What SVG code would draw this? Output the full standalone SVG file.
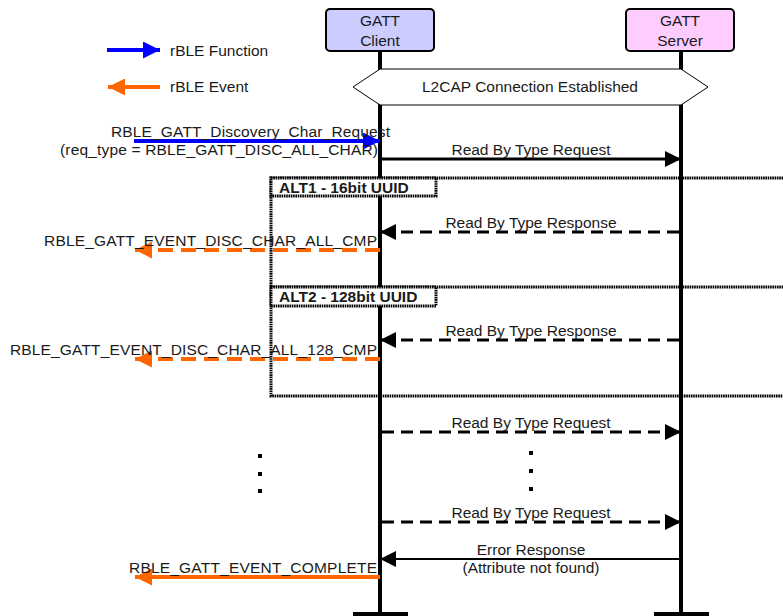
<svg xmlns="http://www.w3.org/2000/svg" width="783" height="616" viewBox="0 0 783 616">
  <style>
    text { font-family: "Liberation Sans", Arial, sans-serif; font-size: 15.5px; fill: #1a1a1a; }
    .mid { text-anchor: middle; }
    .end { text-anchor: end; }
    .bold { font-weight: bold; }
    .life { stroke: #000; stroke-width: 4; }
    .msg { stroke: #000; stroke-width: 3; fill: none; }
    .dash { stroke-dasharray: 12 7; }
    .thin { stroke: #000; stroke-width: 2; fill: none; }
    .fn { stroke: #0000ff; stroke-width: 4; fill: none; }
    .ev { stroke: #ff6600; stroke-width: 4; fill: none; }
    .evdash { stroke-dasharray: 15 8; }
    .frame { stroke: #000; stroke-width: 3; stroke-dasharray: 1.6 0.7; fill: none; }
    .tag { stroke: #000; stroke-width: 3; stroke-dasharray: 1.6 0.7; fill: #fff; }
  </style>
  <defs>
    <marker id="hBlack" viewBox="0 0 10 10" refX="10" refY="5" markerWidth="18" markerHeight="16" markerUnits="userSpaceOnUse" orient="auto">
      <path d="M0,0 L10,5 L0,10 z" fill="#000"/>
    </marker>
    <marker id="hBlue" viewBox="0 0 10 10" refX="10" refY="5" markerWidth="18" markerHeight="17" markerUnits="userSpaceOnUse" orient="auto">
      <path d="M0,0 L10,5 L0,10 z" fill="#0000ff"/>
    </marker>
    <marker id="hOrange" viewBox="0 0 10 10" refX="10" refY="5" markerWidth="18" markerHeight="17" markerUnits="userSpaceOnUse" orient="auto">
      <path d="M0,0 L10,5 L0,10 z" fill="#ff6600"/>
    </marker>
  </defs>

  <!-- legend -->
  <g id="legend">
    <line class="fn" x1="107" y1="50" x2="160" y2="50" marker-end="url(#hBlue)"/>
    <text x="170" y="56">rBLE Function</text>
    <line class="ev" x1="160" y1="87" x2="108" y2="87" marker-end="url(#hOrange)"/>
    <text x="170" y="92">rBLE Event</text>
  </g>

  <!-- alternative fragment frame (under the lifelines) -->
  <g id="alt-frame">
    <polyline class="frame" points="790,178 271,178 271,396 790,396"/>
    <line class="frame" x1="271" y1="287" x2="790" y2="287"/>
  </g>

  <!-- lifelines -->
  <g id="lifelines">
    <line class="life" x1="380" y1="51" x2="380" y2="616"/>
    <line class="life" x1="681" y1="51" x2="681" y2="616"/>
    <line stroke="#000" stroke-width="4" x1="353" y1="614" x2="408" y2="614"/>
    <line stroke="#000" stroke-width="4" x1="654" y1="614" x2="709" y2="614"/>
  </g>

  <!-- participants -->
  <g id="client">
    <rect x="326" y="9" width="108" height="42" rx="4" fill="#ccccff" stroke="#000" stroke-width="2"/>
    <text class="mid" x="380" y="26">GATT</text>
    <text class="mid" x="380" y="46">Client</text>
  </g>
  <g id="server">
    <rect x="626" y="9" width="108" height="42" rx="4" fill="#ffccff" stroke="#000" stroke-width="2"/>
    <text class="mid" x="680" y="26">GATT</text>
    <text class="mid" x="680" y="46">Server</text>
  </g>

  <!-- connection state -->
  <g id="l2cap">
    <polygon points="353,87 380,69 681,69 708,87 681,105 380,105" fill="#fff" stroke="#000" stroke-width="1"/>
    <text class="mid" x="530" y="92">L2CAP Connection Established</text>
  </g>

  <!-- fragment tags -->
  <g id="alt1">
    <rect class="tag" x="271" y="178" width="165" height="18"/>
    <text class="bold" x="279" y="193">ALT1 - 16bit UUID</text>
  </g>
  <g id="alt2">
    <rect class="tag" x="271" y="287" width="165" height="19"/>
    <text class="bold" x="279" y="302">ALT2 - 128bit UUID</text>
  </g>

  <!-- messages -->
  <g id="connectors">
    <line class="fn" x1="134" y1="141" x2="380" y2="141" marker-end="url(#hBlue)"/>
    <line class="msg" x1="382" y1="159" x2="681" y2="159" marker-end="url(#hBlack)"/>

    <line class="msg dash" x1="679" y1="232" x2="380" y2="232" marker-end="url(#hBlack)"/>
    <line class="ev evdash" x1="380" y1="250" x2="135" y2="250" marker-end="url(#hOrange)"/>

    <line class="msg dash" x1="679" y1="340" x2="380" y2="340" marker-end="url(#hBlack)"/>
    <line class="ev evdash" x1="380" y1="359" x2="135" y2="359" marker-end="url(#hOrange)"/>

    <line class="msg dash" x1="382" y1="432" x2="681" y2="432" marker-end="url(#hBlack)"/>
    <line class="msg dash" x1="382" y1="522" x2="681" y2="522" marker-end="url(#hBlack)"/>

    <line class="thin" x1="679" y1="559" x2="380" y2="559" marker-end="url(#hBlack)"/>
    <line class="ev" x1="380" y1="577" x2="135" y2="577" marker-end="url(#hOrange)"/>
  </g>

  <!-- continuation dots -->
  <g id="dots" fill="#000">
    <rect x="258" y="454" width="4" height="4"/>
    <rect x="258" y="472" width="4" height="4"/>
    <rect x="258" y="489" width="4" height="4"/>
    <rect x="529" y="451" width="4" height="4"/>
    <rect x="529" y="469" width="4" height="4"/>
    <rect x="529" y="487" width="4" height="4"/>
  </g>

  <!-- message labels -->
  <g id="labels">
    <text class="end" x="390" y="137" textLength="279" lengthAdjust="spacing">RBLE_GATT_Discovery_Char_Request</text>
    <text class="end" x="378" y="155" textLength="318" lengthAdjust="spacing">(req_type = RBLE_GATT_DISC_ALL_CHAR)</text>
    <text class="mid" x="531" y="155">Read By Type Request</text>
    <text class="mid" x="531" y="228">Read By Type Response</text>
    <text class="end" x="377" y="246" textLength="333" lengthAdjust="spacing">RBLE_GATT_EVENT_DISC_CHAR_ALL_CMP</text>
    <text class="mid" x="531" y="336">Read By Type Response</text>
    <text class="end" x="377" y="355" textLength="367" lengthAdjust="spacing">RBLE_GATT_EVENT_DISC_CHAR_ALL_128_CMP</text>
    <text class="mid" x="531" y="428">Read By Type Request</text>
    <text class="mid" x="531" y="518">Read By Type Request</text>
    <text class="mid" x="531" y="555">Error Response</text>
    <text class="mid" x="531" y="573">(Attribute not found)</text>
    <text class="end" x="377" y="573" textLength="248" lengthAdjust="spacing">RBLE_GATT_EVENT_COMPLETE</text>
  </g>
</svg>
